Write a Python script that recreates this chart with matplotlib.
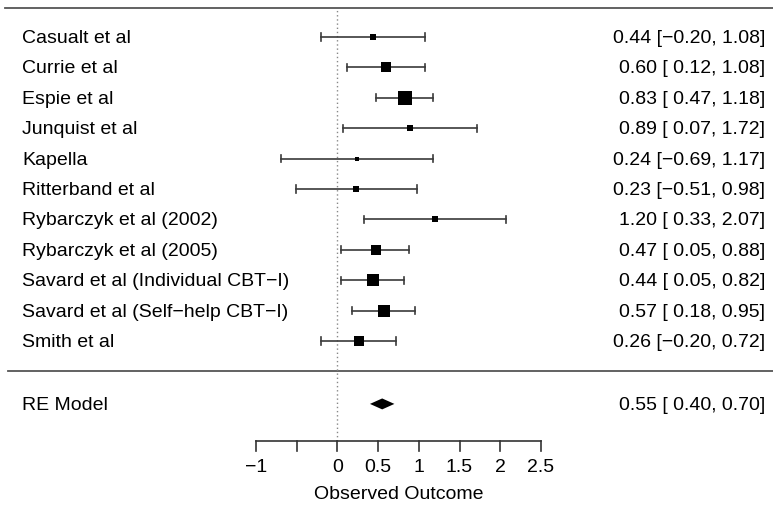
import matplotlib.pyplot as plt
from matplotlib.lines import Line2D

plt.rcParams['font.family'] = ['Liberation Sans', 'DejaVu Sans']

# Studies, effect sizes and 95% CIs (top to bottom)
studies = [
    "Casualt et al",
    "Currie et al",
    "Espie et al",
    "Junquist et al",
    "Kapella",
    "Ritterband et al",
    "Rybarczyk et al (2002)",
    "Rybarczyk et al (2005)",
    "Savard et al (Individual CBT\u2212I)",
    "Savard et al (Self\u2212help CBT\u2212I)",
    "Smith et al",
]
estimates = [0.44, 0.60, 0.83, 0.89, 0.24, 0.23, 1.20, 0.47, 0.44, 0.57, 0.26]
ci_lower = [-0.20, 0.12, 0.47, 0.07, -0.69, -0.51, 0.33, 0.05, 0.05, 0.18, -0.20]
ci_upper = [1.08, 1.08, 1.18, 1.72, 1.17, 0.98, 2.07, 0.88, 0.82, 0.95, 0.72]
# study weights (%)
weights = [5.5, 9.8, 17.8, 3.3, 2.6, 4.1, 3.0, 13.0, 15.1, 15.1, 10.6]

# pooled random-effects estimate
re_est, re_lower, re_upper = 0.55, 0.40, 0.70

xticks = [-1, -0.5, 0, 0.5, 1, 1.5, 2, 2.5]
xticklabels = ["\u22121", "", "0", "0.5", "1", "1.5", "2", "2.5"]


def fmt(v):
    s = "%.2f" % abs(v)
    return ("\u2212" + s) if v < 0 else s


def fmt_ci(est, lo, hi):
    lo_s = fmt(lo) if lo < 0 else " " + fmt(lo)
    return "%s [%s, %s]" % (fmt(est), lo_s, fmt(hi))


fig = plt.figure(figsize=(7.73, 5.05), dpi=100)
ax = fig.add_axes([0, 0, 1, 1])
ax.set_xlim(-4.143, 5.349)
ax.set_ylim(-4.395, 12.217)
ax.axis('off')

k = len(studies)
rows = list(range(k, 0, -1))
fs = 14
x_left, x_right = -3.873, 5.251
base = 0.2  # baseline offset below the row centre

# horizontal rules across the whole width
ax.add_line(Line2D([-4.08, 5.349], [11.95, 11.95], color='#555555', lw=1.3))
ax.add_line(Line2D([-4.05, 5.349], [0.0, 0.0], color='#555555', lw=1.3))

y_ax = -2.29
# reference line at zero
ax.plot([0, 0], [y_ax, 11.95], color='#888888', lw=1, ls=(0, (1, 2)))

wmin, wmax = min(weights), max(weights)
cap = 0.12
for name, est, lo, hi, w, y in zip(studies, estimates, ci_lower, ci_upper, weights, rows):
    ax.plot([lo, hi], [y, y], color='#3a3a3a', lw=1.2)
    ax.plot([lo, lo], [y - cap, y + cap], color='#3a3a3a', lw=1.2)
    ax.plot([hi, hi], [y - cap, y + cap], color='#3a3a3a', lw=1.2)
    cex = 0.5 + (w - wmin) / (wmax - wmin)
    ax.plot(est, y, marker='s', color='black', markersize=cex * 8.8 * 0.72 + 0.4,
            markeredgewidth=0)
    ax.text(x_left, y - base, name, ha='left', va='baseline', fontsize=fs)
    ax.text(x_right, y - base, fmt_ci(est, lo, hi), ha='right', va='baseline',
            fontsize=fs)

# pooled estimate diamond
y_re = -1.07
h = 0.18
ax.fill([re_lower, re_est, re_upper, re_est], [y_re, y_re + h, y_re, y_re - h],
        color='black', lw=0)
ax.text(x_left, y_re - base, "RE Model", ha='left', va='baseline', fontsize=fs)
ax.text(x_right, y_re - base, fmt_ci(re_est, re_lower, re_upper), ha='right',
        va='baseline', fontsize=fs)

# bottom axis
ax.plot([xticks[0], xticks[-1]], [y_ax, y_ax], color='#333333', lw=1.2)
for t, lab in zip(xticks, xticklabels):
    ax.plot([t, t], [y_ax, y_ax - 0.32], color='#333333', lw=1.2)
    ax.text(t, -3.31, lab, ha='center', va='baseline', fontsize=fs)
ax.text(0.75, -4.2, "Observed Outcome", ha='center', va='baseline', fontsize=fs)

fig.savefig("out.png", dpi=100)
